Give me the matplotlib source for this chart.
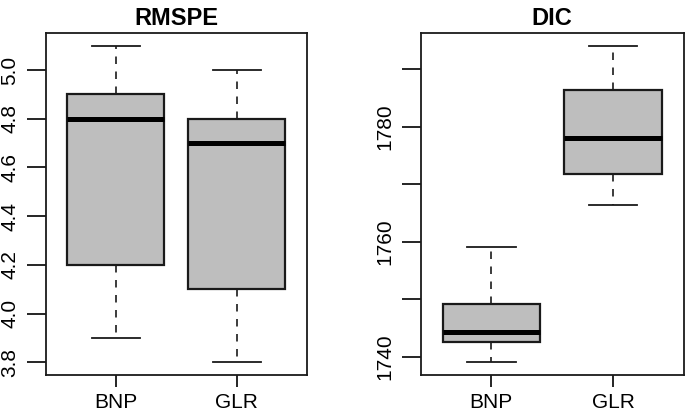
import matplotlib.pyplot as plt

plt.rcParams['font.family'] = ['Liberation Sans', 'DejaVu Sans']

# values
methods = ["BNP", "GLR"]

rmspe_low = [3.9, 3.8]
rmspe_q1 = [4.2, 4.1]
rmspe_med = [4.8, 4.7]
rmspe_q3 = [4.9, 4.8]
rmspe_high = [5.1, 5.0]
rmspe_ticks = [3.8, 4.0, 4.2, 4.4, 4.6, 4.8, 5.0]
rmspe_ticklabels = ["3.8", "4.0", "4.2", "4.4", "4.6", "4.8", "5.0"]

dic_low = [1739.0, 1766.4]
dic_q1 = [1742.6, 1771.7]
dic_med = [1744.2, 1778.1]
dic_q3 = [1749.2, 1786.4]
dic_high = [1759.0, 1794.1]
dic_ticks = [1740, 1750, 1760, 1770, 1780, 1790]
dic_ticklabels = ["1740", "", "1760", "", "1780", ""]


def make_stats(low, q1, med, q3, high):
    stats = []
    for i in range(len(methods)):
        stats.append({"label": methods[i], "whislo": low[i], "q1": q1[i],
                      "med": med[i], "q3": q3[i], "whishi": high[i], "fliers": []})
    return stats


def draw_panel(ax, stats, title, ticks, ticklabels):
    ax.bxp(stats, positions=[1, 2], widths=0.8, patch_artist=True,
           boxprops=dict(facecolor="#BEBEBE", edgecolor="#1a1a1a", linewidth=1.6),
           medianprops=dict(color="black", linewidth=3.6, solid_capstyle="butt"),
           whiskerprops=dict(color="#1a1a1a", linewidth=1.2, linestyle=(0, (4.5, 4.5))),
           capprops=dict(color="#1a1a1a", linewidth=1.3),
           capwidths=0.4)
    lo = min(s["whislo"] for s in stats)
    hi = max(s["whishi"] for s in stats)
    ext = (hi - lo) * 0.04
    ax.set_ylim(lo - ext, hi + ext)
    ax.set_xlim(0.42, 2.58)
    ax.set_yticks(ticks)
    ax.set_yticklabels(ticklabels)
    ax.set_xticks([1, 2])
    ax.set_xticklabels(methods)
    ax.tick_params(axis="y", length=14, width=1.2, pad=5, labelsize=15, labelrotation=90)
    ax.tick_params(axis="x", length=8.5, width=1.2, pad=4.5, labelsize=15)
    for lab in ax.get_yticklabels():
        lab.set_va("center")
    for sp in ax.spines.values():
        sp.set_linewidth(1.3)
        sp.set_color("#1a1a1a")
    ax.set_title(title, fontsize=17, fontweight="bold", pad=6)


fig = plt.figure(figsize=(6.85, 4.17), dpi=100)
ax1 = fig.add_axes([0.0667, 0.1007, 0.3815, 0.8203])
ax2 = fig.add_axes([0.6142, 0.1007, 0.3838, 0.8203])

draw_panel(ax1, make_stats(rmspe_low, rmspe_q1, rmspe_med, rmspe_q3, rmspe_high),
           "RMSPE", rmspe_ticks, rmspe_ticklabels)
draw_panel(ax2, make_stats(dic_low, dic_q1, dic_med, dic_q3, dic_high),
           "DIC", dic_ticks, dic_ticklabels)

fig.savefig("out.png", dpi=100)
